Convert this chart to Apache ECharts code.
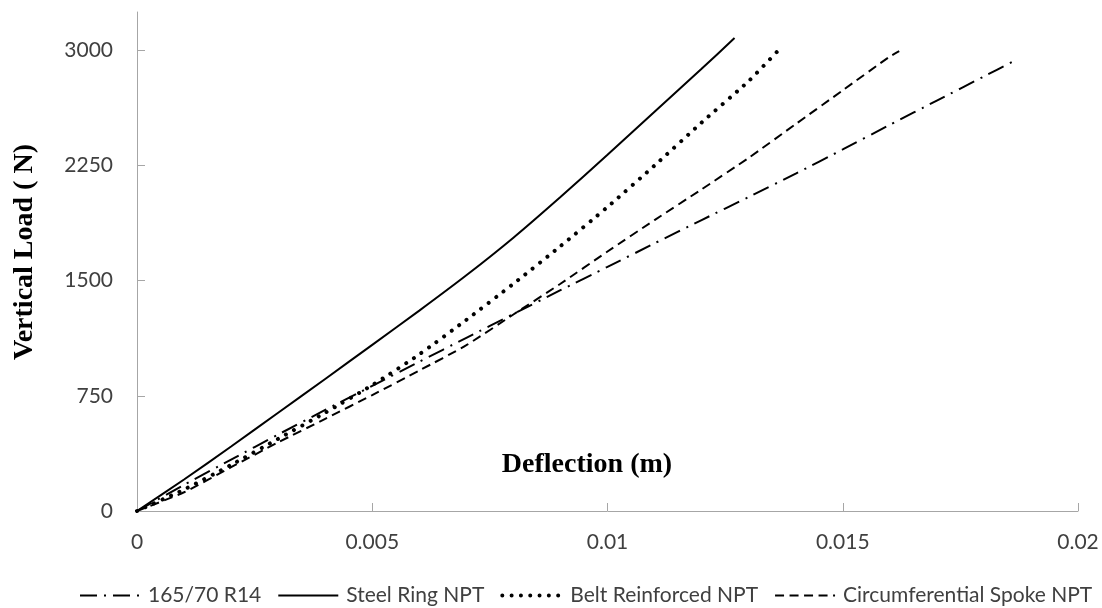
<!DOCTYPE html>
<html>
<head>
<meta charset="utf-8">
<script src="https://cdn.jsdelivr.net/npm/echarts@6/dist/echarts.min.js"></script>
<style>
  html, body { margin: 0; padding: 0; background: #ffffff; }
  #chart { width: 1102px; height: 608px; }
</style>
</head>
<body>
<div id="chart"></div>
<script>
// Load–deflection curves, deflection in metres, vertical load in newtons
const seriesNames = ['165/70 R14', 'Steel Ring NPT', 'Belt Reinforced NPT', 'Circumferential Spoke NPT'];

const defTyre  = [0, 0.001, 0.002, 0.003, 0.004, 0.005, 0.006, 0.007, 0.008, 0.009, 0.010, 0.011, 0.012, 0.013, 0.014, 0.015, 0.016, 0.017, 0.018, 0.0186];
const loadTyre = [0, 170, 335, 498, 658, 815, 972, 1128, 1283, 1438, 1590, 1743, 1895, 2045, 2197, 2355, 2515, 2673, 2830, 2925];

const defSteel  = [0, 0.001, 0.002, 0.003, 0.004, 0.005, 0.006, 0.007, 0.008, 0.009, 0.010, 0.011, 0.012, 0.0127];
const loadSteel = [0, 205, 420, 640, 860, 1082, 1305, 1535, 1780, 2045, 2320, 2600, 2880, 3080];

const defBelt  = [0, 0.001, 0.002, 0.003, 0.004, 0.005, 0.006, 0.007, 0.008, 0.009, 0.010, 0.011, 0.012, 0.013, 0.0136];
const loadBelt = [0, 140, 300, 470, 640, 820, 1020, 1245, 1480, 1725, 1980, 2250, 2530, 2800, 2990];

const defSpoke  = [0, 0.001, 0.002, 0.003, 0.004, 0.005, 0.006, 0.007, 0.008, 0.009, 0.010, 0.011, 0.012, 0.013, 0.014, 0.015, 0.016, 0.0162];
const loadSpoke = [0, 122, 285, 447, 600, 755, 915, 1080, 1280, 1480, 1690, 1895, 2095, 2300, 2520, 2740, 2960, 2995];

const xTicks = [0, 0.005, 0.01, 0.015, 0.02];
const yTicks = [0, 750, 1500, 2250, 3000];

function pairs(xs, ys) { return xs.map((x, i) => [x, ys[i]]); }

const textColor = '#404040';
const axisColor = '#a6a6a6';
const uiFont = 'Lato';

// line styles per curve: dash-dot, solid, round dots, dashes
const styles = [
  { color: '#000000', width: 2, type: [17, 7, 2, 7] },
  { color: '#000000', width: 2, type: 'solid' },
  { color: '#000000', width: 4, type: [0.01, 9.3], cap: 'round' },
  { color: '#000000', width: 2, type: [9, 5.5] }
];

const chart = echarts.init(document.getElementById('chart'), null, { renderer: 'canvas' });

const lineBase = { type: 'line', showSymbol: false, symbol: 'none', smooth: 0.2, animation: false, z: 3 };
const dataSets = [pairs(defTyre, loadTyre), pairs(defSteel, loadSteel), pairs(defBelt, loadBelt), pairs(defSpoke, loadSpoke)];

chart.setOption({
  backgroundColor: '#ffffff',
  animation: false,
  grid: { left: 137, right: 24, top: 12, bottom: 97 },
  xAxis: {
    type: 'value', min: 0, max: 0.02, interval: 0.005,
    axisLine: { show: true, lineStyle: { color: axisColor, width: 1 } },
    axisTick: { show: true, inside: true, length: 8, lineStyle: { color: axisColor }, customValues: xTicks },
    splitLine: { show: false },
    axisLabel: { color: textColor, fontFamily: uiFont, fontSize: 21, margin: 21, customValues: xTicks,
      formatter: v => String(v) }
  },
  yAxis: {
    type: 'value', min: 0, max: 3250, interval: 750,
    axisLine: { show: true, lineStyle: { color: axisColor, width: 1 } },
    axisTick: { show: true, inside: true, length: 8, lineStyle: { color: axisColor }, customValues: yTicks },
    splitLine: { show: false },
    axisLabel: { color: textColor, fontFamily: uiFont, fontSize: 21, margin: 24, customValues: yTicks,
      formatter: v => String(v) }
  },
  legend: {
    top: 580, left: 74,
    itemWidth: 60, itemHeight: 12, itemGap: 16,
    itemStyle: { opacity: 0 },
    textStyle: { color: textColor, fontFamily: uiFont, fontSize: 21, padding: [0, 0, 0, 3] },
    data: seriesNames.map((name, i) => ({ name: name, lineStyle: Object.assign({}, styles[i]) }))
  },
  graphic: [
    { type: 'text', x: 587, y: 465,
      style: { text: 'Deflection (m)', fill: '#000000', font: 'bold 28px "Liberation Serif"', align: 'center', verticalAlign: 'middle' } },
    { type: 'text', x: 25, y: 252, rotation: Math.PI / 2,
      style: { text: 'Vertical Load ( N)', fill: '#000000', font: 'bold 28px "Liberation Serif"', align: 'center', verticalAlign: 'middle' } }
  ],
  series: seriesNames.map((name, i) => Object.assign({}, lineBase, {
    name: name, data: dataSets[i], lineStyle: styles[i], itemStyle: { color: '#000000' }
  }))
});
</script>
</body>
</html>
